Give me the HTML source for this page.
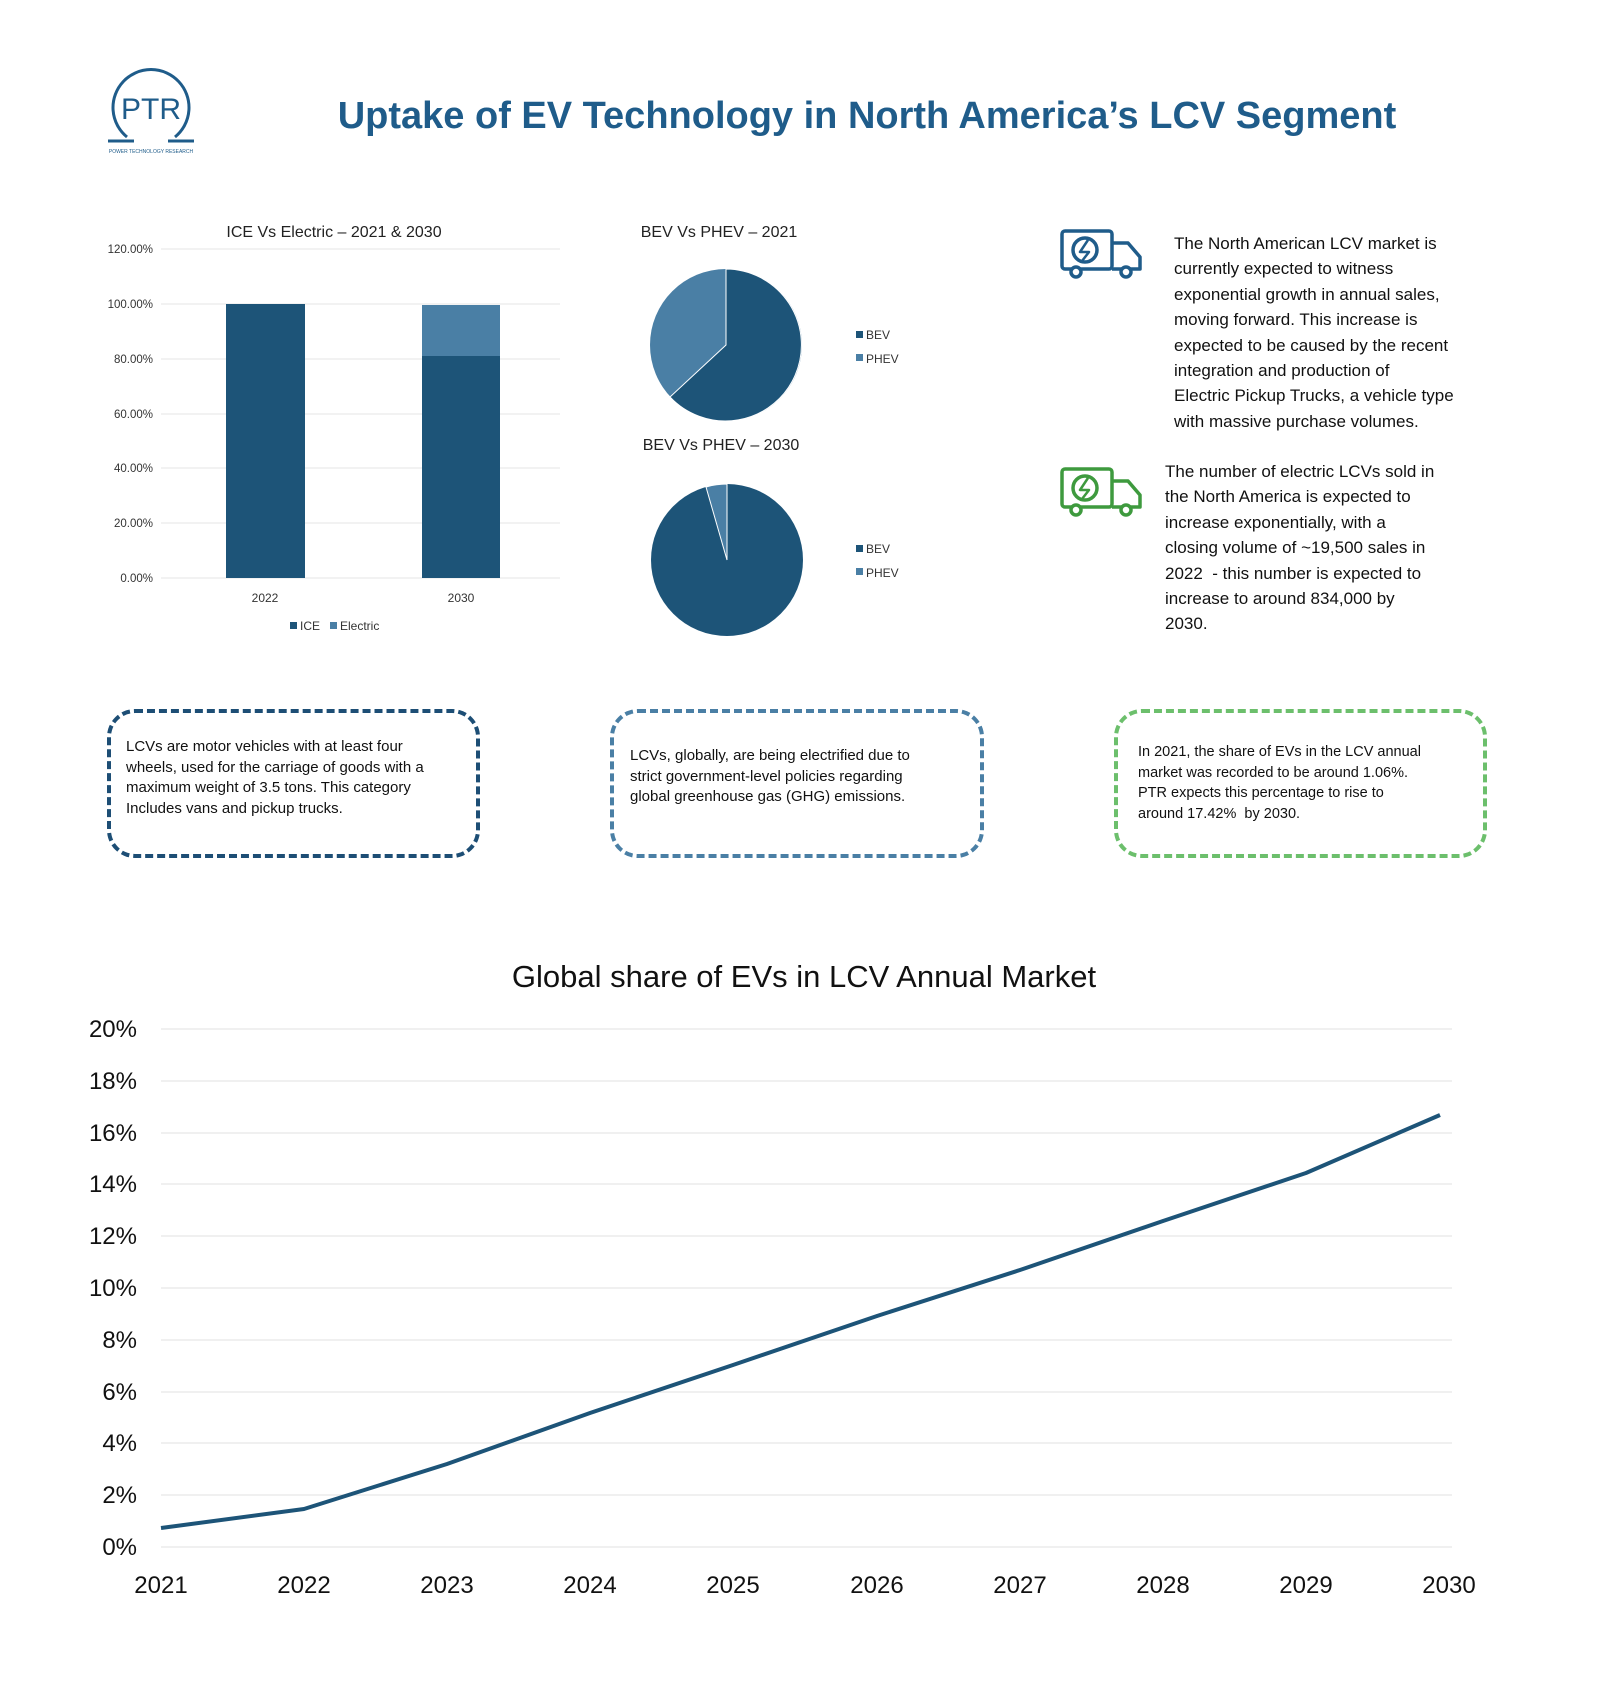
<!DOCTYPE html>
<html><head><meta charset="utf-8"><style>
body{margin:0;background:#fff;width:1600px;height:1697px;position:relative;font-family:"Liberation Sans",sans-serif;overflow:hidden}
.abs{position:absolute}
.box{position:absolute;border-style:dashed;border-width:4px;border-radius:28px;box-sizing:border-box}
.bt{position:absolute;font-size:15.5px;line-height:20.5px;color:#111;white-space:nowrap}
.pt{position:absolute;font-size:17px;line-height:25.4px;color:#111;white-space:nowrap}
</style></head><body>
<svg class="abs" style="left:0;top:0" width="1600" height="1697" font-family="Liberation Sans, sans-serif">
<path d="M127,137 A38,38 0 1 1 175,137" fill="none" stroke="#1f5c8a" stroke-width="3"/>
<line x1="108" y1="141" x2="134" y2="141" stroke="#1f5c8a" stroke-width="3"/>
<line x1="168" y1="141" x2="194" y2="141" stroke="#1f5c8a" stroke-width="3"/>
<text x="151" y="119" text-anchor="middle" font-size="30" fill="#1f5c8a">PTR</text>
<text x="151" y="153" text-anchor="middle" font-size="5" fill="#1f5c8a">POWER TECHNOLOGY RESEARCH</text>
<text x="867" y="128" text-anchor="middle" font-size="38" font-weight="bold" fill="#1f5c8a">Uptake of EV Technology in North America’s LCV Segment</text>

<text x="334" y="237" text-anchor="middle" font-size="16" fill="#222">ICE Vs Electric – 2021 &amp; 2030</text>
<g stroke="#e6e6e6" stroke-width="1">
<line x1="161" x2="560" y1="249" y2="249"/><line x1="161" x2="560" y1="304" y2="304"/><line x1="161" x2="560" y1="359" y2="359"/><line x1="161" x2="560" y1="414" y2="414"/><line x1="161" x2="560" y1="468" y2="468"/><line x1="161" x2="560" y1="523" y2="523"/><line x1="161" x2="560" y1="578" y2="578"/>
</g>
<g font-size="11.5" fill="#333" text-anchor="end">
<text x="153" y="253">120.00%</text><text x="153" y="308">100.00%</text><text x="153" y="363">80.00%</text><text x="153" y="418">60.00%</text><text x="153" y="472">40.00%</text><text x="153" y="527">20.00%</text><text x="153" y="582">0.00%</text>
</g>
<rect x="226" y="304" width="79" height="274" fill="#1d5478"/>
<rect x="422" y="305" width="78" height="51" fill="#4a7fa5"/>
<rect x="422" y="356" width="78" height="222" fill="#1d5478"/>
<g font-size="12" fill="#333" text-anchor="middle"><text x="265" y="602">2022</text><text x="461" y="602">2030</text></g>
<rect x="290" y="622" width="7" height="7" fill="#1d5478"/><text x="300" y="630" font-size="12" fill="#333">ICE</text>
<rect x="330" y="622" width="7" height="7" fill="#4a7fa5"/><text x="340" y="630" font-size="12" fill="#333">Electric</text>

<text x="719" y="237" text-anchor="middle" font-size="16" fill="#222">BEV Vs PHEV – 2021</text>
<circle cx="726" cy="345" r="76" fill="#4a7fa5"/>
<path d="M726,345 L726,269 A76,76 0 1 1 670,397 Z" fill="#1d5478" stroke="#fff" stroke-width="1"/>
<rect x="856" y="331" width="7" height="7" fill="#1d5478"/><text x="866" y="339" font-size="12" fill="#333">BEV</text>
<rect x="856" y="354" width="7" height="7" fill="#4a7fa5"/><text x="866" y="363" font-size="12" fill="#333">PHEV</text>
<text x="721" y="450" text-anchor="middle" font-size="16" fill="#222">BEV Vs PHEV – 2030</text>
<circle cx="727" cy="560" r="76" fill="#1d5478"/>
<path d="M727,560 L706,487 A76,76 0 0 1 727,484 Z" fill="#4a7fa5" stroke="#fff" stroke-width="1"/>
<rect x="856" y="545" width="7" height="7" fill="#1d5478"/><text x="866" y="553" font-size="12" fill="#333">BEV</text>
<rect x="856" y="568" width="7" height="7" fill="#4a7fa5"/><text x="866" y="577" font-size="12" fill="#333">PHEV</text>

<g fill="none" stroke="#1f5c8a" stroke-width="3.5" stroke-linejoin="round">
<rect x="1062" y="231" width="50" height="38" rx="3"/>
<path d="M1112,243 H1128 L1140,257 V269 H1112"/>
<circle cx="1076" cy="272" r="5" fill="#fff"/><circle cx="1126" cy="272" r="5" fill="#fff"/>
<circle cx="1085" cy="250" r="12"/><path d="M1088,240 L1080,252 H1089 L1082,261" stroke-width="2.5"/>
</g>
<g fill="none" stroke="#3e9a3e" stroke-width="3.5" stroke-linejoin="round">
<rect x="1062" y="469" width="50" height="38" rx="3"/>
<path d="M1112,481 H1128 L1140,495 V507 H1112"/>
<circle cx="1076" cy="510" r="5" fill="#fff"/><circle cx="1126" cy="510" r="5" fill="#fff"/>
<circle cx="1085" cy="488" r="12"/><path d="M1088,478 L1080,490 H1089 L1082,499" stroke-width="2.5"/>
</g>

<text x="804" y="987" text-anchor="middle" font-size="31" fill="#111">Global share of EVs in LCV Annual Market</text>
<g stroke="#e6e6e6" stroke-width="1.2">
<line x1="161" x2="1452" y1="1029" y2="1029"/><line x1="161" x2="1452" y1="1081" y2="1081"/><line x1="161" x2="1452" y1="1133" y2="1133"/><line x1="161" x2="1452" y1="1184" y2="1184"/><line x1="161" x2="1452" y1="1236" y2="1236"/><line x1="161" x2="1452" y1="1288" y2="1288"/><line x1="161" x2="1452" y1="1340" y2="1340"/><line x1="161" x2="1452" y1="1392" y2="1392"/><line x1="161" x2="1452" y1="1443" y2="1443"/><line x1="161" x2="1452" y1="1495" y2="1495"/><line x1="161" x2="1452" y1="1547" y2="1547"/>
</g>
<g font-size="24" fill="#111" text-anchor="end">
<text x="137" y="1037">20%</text><text x="137" y="1089">18%</text><text x="137" y="1141">16%</text><text x="137" y="1192">14%</text><text x="137" y="1244">12%</text><text x="137" y="1296">10%</text><text x="137" y="1348">8%</text><text x="137" y="1400">6%</text><text x="137" y="1451">4%</text><text x="137" y="1503">2%</text><text x="137" y="1555">0%</text>
</g>
<g font-size="24" fill="#111" text-anchor="middle">
<text x="161" y="1593">2021</text><text x="304" y="1593">2022</text><text x="447" y="1593">2023</text><text x="590" y="1593">2024</text><text x="733" y="1593">2025</text><text x="877" y="1593">2026</text><text x="1020" y="1593">2027</text><text x="1163" y="1593">2028</text><text x="1306" y="1593">2029</text><text x="1449" y="1593">2030</text>
</g>
<polyline fill="none" stroke="#1d5478" stroke-width="4" stroke-linejoin="round" points="161,1528 304,1509 447,1464 590,1413 733,1365 877,1316 1020,1270 1163,1221 1306,1173 1440,1115"/>
</svg>

<div class="pt" style="left:1174px;top:231px">The North American LCV market is<br>currently expected to witness<br>exponential growth in annual sales,<br>moving forward. This increase is<br>expected to be caused by the recent<br>integration and production of<br>Electric Pickup Trucks, a vehicle type<br>with massive purchase volumes.</div>
<div class="pt" style="left:1165px;top:459px">The number of electric LCVs sold in<br>the North America is expected to<br>increase exponentially, with a<br>closing volume of ~19,500 sales in<br>2022 &nbsp;- this number is expected to<br>increase to around 834,000 by<br>2030.</div>

<div class="box" style="left:107px;top:709px;width:373px;height:149px;border-color:#1d4e75"></div>
<div class="bt" style="left:126px;top:737px;font-size:15px">LCVs are motor vehicles with at least four<br>wheels, used for the carriage of goods with a<br>maximum weight of 3.5 tons. This category<br>Includes vans and pickup trucks.</div>
<div class="box" style="left:610px;top:709px;width:374px;height:149px;border-color:#4a7fa5"></div>
<div class="bt" style="left:630px;top:746px;font-size:15px">LCVs, globally, are being electrified due to<br>strict government-level policies regarding<br>global greenhouse gas (GHG) emissions.</div>
<div class="box" style="left:1114px;top:709px;width:373px;height:149px;border-color:#6cbf6c"></div>
<div class="bt" style="left:1138px;top:742px;font-size:14.5px">In 2021, the share of EVs in the LCV annual<br>market was recorded to be around 1.06%.<br>PTR expects this percentage to rise to<br>around 17.42% &nbsp;by 2030.</div>
</body></html>
